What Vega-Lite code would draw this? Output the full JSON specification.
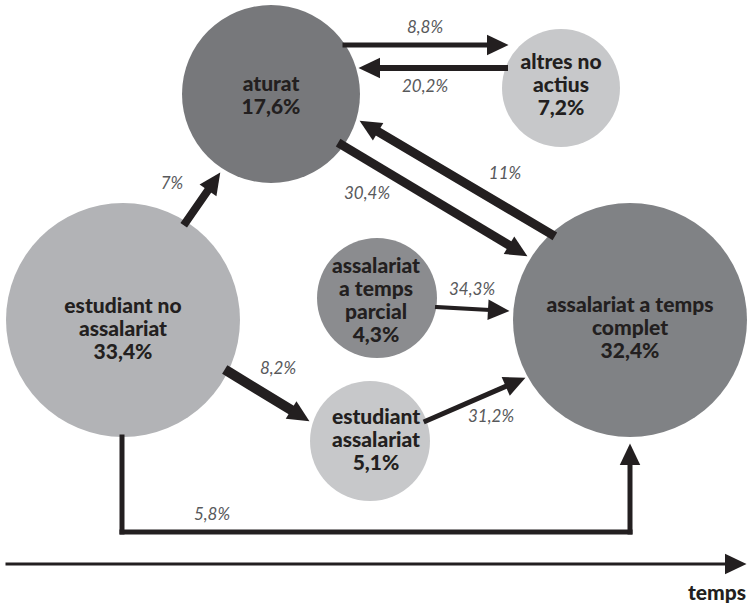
{
  "$schema": "https://vega.github.io/schema/vega-lite/v6.json",
  "width": 747,
  "height": 608,
  "autosize": {"type": "fit", "contains": "padding"},
  "padding": 0,
  "background": "white",
  "config": {"view": {"stroke": null}},
  "datasets": {
    "nodes": [
      {"name": "aturat", "pct": 17.6, "x": 271, "y": 94, "lx": 271, "ly": 85, "label": "aturat\n17,6%"},
      {"name": "altres no actius", "pct": 7.2, "x": 561, "y": 88, "lx": 561, "ly": 63, "label": "altres no\nactius\n7,2%"},
      {"name": "estudiant no assalariat", "pct": 33.4, "x": 123, "y": 320, "lx": 123, "ly": 307, "label": "estudiant no\nassalariat\n33,4%"},
      {"name": "assalariat a temps complet", "pct": 32.4, "x": 630, "y": 320, "lx": 630, "ly": 306, "label": "assalariat a temps\ncomplet\n32,4%"},
      {"name": "assalariat a temps parcial", "pct": 4.3, "x": 377, "y": 298, "lx": 376, "ly": 267, "label": "assalariat\na temps\nparcial\n4,3%"},
      {"name": "estudiant assalariat", "pct": 5.1, "x": 370, "y": 441, "lx": 376, "ly": 418, "label": "estudiant\nassalariat\n5,1%"}
    ],
    "flows": [
      {"flow": "7%", "x": 186, "y": 222, "x2": 208, "y2": 190.3, "head": true},
      {"flow": "8,8%", "x": 345, "y": 45, "x2": 487, "y2": 45, "head": true},
      {"flow": "20,2%", "x": 505, "y": 68, "x2": 380, "y2": 68, "head": true},
      {"flow": "11%", "x": 551, "y": 234, "x2": 378.1, "y2": 131.7, "head": true},
      {"flow": "30,4%", "x": 342, "y": 145, "x2": 509, "y2": 245.2, "head": true},
      {"flow": "34,3%", "x": 437, "y": 307, "x2": 488, "y2": 309.8, "head": true},
      {"flow": "31,2%", "x": 426, "y": 421, "x2": 505.7, "y2": 386.4, "head": true},
      {"flow": "8,2%", "x": 229, "y": 372, "x2": 291.1, "y2": 410, "head": true},
      {"flow": "5,8%", "x": 122, "y": 437, "x2": 122, "y2": 532, "head": false},
      {"flow": "5,8%", "x": 122, "y": 532, "x2": 630, "y2": 532, "head": false},
      {"flow": "5,8%", "x": 630, "y": 532, "x2": 630, "y2": 465, "head": true},
      {"flow": "temps", "x": 7, "y": 564, "x2": 725, "y2": 564, "head": true}
    ],
    "flowLabels": [
      {"text": "7%", "x": 172, "y": 184},
      {"text": "8,8%", "x": 425, "y": 28},
      {"text": "20,2%", "x": 425, "y": 87},
      {"text": "11%", "x": 505, "y": 174},
      {"text": "30,4%", "x": 367, "y": 194},
      {"text": "34,3%", "x": 472, "y": 290},
      {"text": "31,2%", "x": 491, "y": 417},
      {"text": "8,2%", "x": 278, "y": 369},
      {"text": "5,8%", "x": 212, "y": 515}
    ],
    "axisLabel": [
      {"text": "temps", "x": 746, "y": 594}
    ]
  },
  "encoding": {
    "x": {"field": "x", "type": "quantitative", "scale": {"domain": [0, 747], "nice": false, "zero": false}, "axis": null},
    "y": {"field": "y", "type": "quantitative", "scale": {"domain": [0, 608], "nice": false, "zero": false, "reverse": true}, "axis": null}
  },
  "layer": [
    {
      "data": {"name": "nodes"},
      "mark": {"type": "point", "shape": "circle", "filled": true, "opacity": 1, "strokeWidth": 0},
      "encoding": {
        "size": {"field": "pct", "type": "quantitative", "legend": null,
          "scale": {"domain": [4.3, 5.1, 7.2, 17.6, 32.4, 33.4], "range": [14400, 14400, 13924, 31684, 54756, 54756]}},
        "color": {"field": "name", "type": "nominal", "legend": null,
          "scale": {"domain": ["aturat", "altres no actius", "estudiant no assalariat", "assalariat a temps complet", "assalariat a temps parcial", "estudiant assalariat"],
                    "range": ["#77787b", "#c7c8ca", "#b2b3b6", "#808285", "#8b8c8f", "#c7c8ca"]}}
      }
    },
    {
      "data": {"name": "flows"},
      "mark": {"type": "rule", "color": "#231f20", "strokeCap": "square"},
      "encoding": {
        "x2": {"field": "x2"},
        "y2": {"field": "y2"},
        "strokeWidth": {"field": "flow", "type": "nominal", "legend": null,
          "scale": {"type": "ordinal", "domain": ["7%", "8,8%", "20,2%", "11%", "30,4%", "34,3%", "31,2%", "8,2%", "5,8%", "temps"],
                    "range": [8, 5, 6, 9, 9, 4, 5, 10, 5, 3]}}
      }
    },
    {
      "data": {"name": "flows"},
      "transform": [
        {"filter": "datum.head"},
        {"calculate": "atan2(datum.y2 - datum.y, datum.x2 - datum.x) * 180 / PI", "as": "ang"}
      ],
      "mark": {"type": "point", "shape": "M0,-1L2.1,0L0,1Z", "filled": true, "opacity": 1, "size": 420, "color": "#231f20", "strokeWidth": 0},
      "encoding": {
        "x": {"field": "x2", "type": "quantitative"},
        "y": {"field": "y2", "type": "quantitative"},
        "angle": {"field": "ang", "type": "quantitative", "scale": null}
      }
    },
    {
      "data": {"name": "flowLabels"},
      "mark": {"type": "text", "font": "Lato", "fontStyle": "italic", "fontWeight": "normal", "fontSize": 17, "color": "#58595b", "align": "center", "baseline": "middle"},
      "encoding": {"text": {"field": "text"}}
    },
    {
      "data": {"name": "nodes"},
      "mark": {"type": "text", "font": "Lato", "fontWeight": 900, "fontSize": 21, "color": "#231f20", "align": "center", "baseline": "middle", "lineBreak": "\n", "lineHeight": 23},
      "encoding": {
        "x": {"field": "lx", "type": "quantitative"},
        "y": {"field": "ly", "type": "quantitative"},
        "text": {"field": "label"}
      }
    },
    {
      "data": {"name": "axisLabel"},
      "mark": {"type": "text", "font": "Lato", "fontWeight": 900, "fontSize": 21, "color": "#231f20", "align": "right", "baseline": "middle"},
      "encoding": {"text": {"field": "text"}}
    }
  ]
}
